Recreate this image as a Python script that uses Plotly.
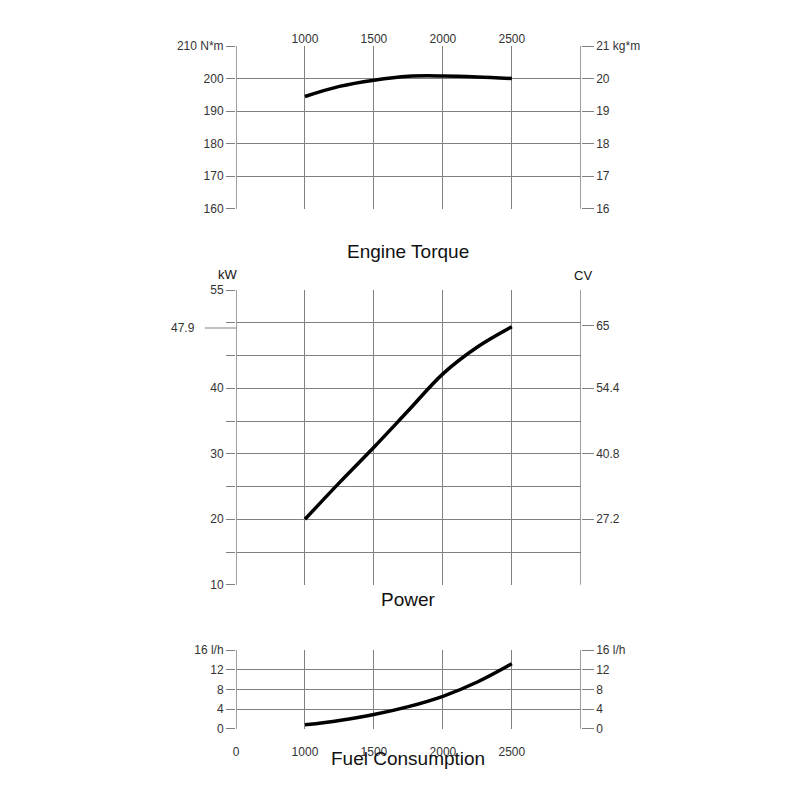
import plotly.graph_objects as go

# engine speed (rpm)
rpm = [1000, 1250, 1500, 1750, 2000, 2250, 2500]
torque_nm = [194.5, 197.6, 199.5, 200.7, 200.8, 200.5, 200.0]
power_kw = [20.0, 25.6, 31.0, 36.6, 42.2, 46.3, 49.4]
fuel_lh = [0.8, 1.7, 2.9, 4.5, 6.6, 9.5, 13.2]

x_ticks = [1000, 1500, 2000, 2500]
torque_ticks = [160, 170, 180, 190, 200, 210]
torque_left_text = ["160", "170", "180", "190", "200", "210 N*m"]
torque_right_text = ["16", "17", "18", "19", "20", "21 kg*m"]
power_grid = [10, 15, 20, 25, 30, 35, 40, 45, 50, 55]
power_left_text = ["10", "", "20", "", "30", "", "40", "", "", "55"]
power_right_vals = [20, 30, 40, 49.6]
power_right_text = ["27.2", "40.8", "54.4", "65"]
fuel_ticks = [0, 4, 8, 12, 16]
fuel_left_text = ["0", "4", "8", "12", "16 l/h"]

FONT = "Liberation Sans"
GRID = "#808080"
TXT = "#333333"

fig = go.Figure()
fig.add_trace(go.Scatter(x=rpm, y=torque_nm, xaxis="x", yaxis="y", mode="lines",
                         line=dict(color="black", width=3.5, shape="spline")))
fig.add_trace(go.Scatter(x=rpm, y=power_kw, xaxis="x2", yaxis="y2", mode="lines",
                         line=dict(color="black", width=3.5, shape="spline")))
fig.add_trace(go.Scatter(x=rpm, y=fuel_lh, xaxis="x3", yaxis="y3", mode="lines",
                         line=dict(color="black", width=3.5, shape="spline")))
# empty traces so right-hand axes are drawn
for xa, ya in [("x", "y4"), ("x2", "y5"), ("x3", "y6")]:
    fig.add_trace(go.Scatter(x=[None], y=[None], xaxis=xa, yaxis=ya, hoverinfo="skip"))

xdom = [0.285, 0.716]
doms = {1: [0.749, 0.9525], 2: [0.279, 0.6475], 3: [0.099, 0.1975]}

def xax(i, **kw):
    d = dict(domain=xdom, range=[500, 3000], tickvals=x_ticks, showgrid=True,
             gridcolor=GRID, gridwidth=1, zeroline=False, showline=False,
             ticks="", tickfont=dict(family=FONT, size=12, color=TXT),
             anchor="y" if i == 1 else "y%d" % i, fixedrange=True,
             automargin=False)
    d.update(kw)
    return d

def yax(i, rng, vals, text, side="left", grid=True, **kw):
    d = dict(domain=doms[i], range=rng, tickvals=vals, ticktext=text,
             showgrid=grid, gridcolor=GRID, gridwidth=1, zeroline=False,
             showline=False, ticks="outside", ticklen=9, tickcolor=GRID,
             tickfont=dict(family=FONT, size=12, color=TXT), side=side,
             automargin=False)
    d.update(kw)
    return d

fig.update_layout(
    xaxis=xax(1, side="top"),
    xaxis2=xax(2, showticklabels=False),
    xaxis3=xax(3, tickvals=[500] + x_ticks, ticktext=["0"] + [str(v) for v in x_ticks],
               ticks="outside", ticklen=12, tickcolor="rgba(0,0,0,0)"),
    yaxis=yax(1, [160, 210], torque_ticks, torque_left_text, anchor="x"),
    yaxis2=yax(2, [10, 55], power_grid, power_left_text, anchor="x2"),
    yaxis3=yax(3, [0, 16], fuel_ticks, fuel_left_text, anchor="x3"),
    yaxis4=yax(1, [160, 210], torque_ticks, torque_right_text, side="right",
               grid=False, overlaying="y", anchor="x", ticklen=12),
    yaxis5=yax(2, [10, 55], power_right_vals, power_right_text, side="right",
               grid=False, overlaying="y2", anchor="x2", ticklen=12),
    yaxis6=yax(3, [0, 16], fuel_ticks, fuel_left_text, side="right",
               grid=False, overlaying="y3", anchor="x3", ticklen=12),
    width=800, height=800, margin=dict(l=0, r=0, t=0, b=0),
    plot_bgcolor="white", paper_bgcolor="white", showlegend=False,
)

# left / right frame lines extending beyond each panel
ext = {1: (160 - 50 * 14 / 163, 210 + 50 * 5 / 163, "y"),
       2: (10 - 45 * 15 / 295, 55 + 45 * 6 / 295, "y2"),
       3: (0 + 16 * -2 / 79, 16 + 16 * 22 / 79, "y3")}
for i, (lo, hi, yr) in ext.items():
    xr = "x" if i == 1 else "x%d" % i
    for xv in [500, 3000]:
        fig.add_shape(type="line", xref=xr, yref=yr, x0=xv, x1=xv, y0=lo, y1=hi,
                      line=dict(color=GRID, width=1.5))

# extra 47.9 kW marker
fig.add_shape(type="line", xref="paper", yref="y2", x0=0.246, x1=0.285,
              y0=49.2, y1=49.2, line=dict(color=GRID, width=1))
fig.add_annotation(x=0.236, y=49.2, xref="paper", yref="y2", text="47.9",
                   showarrow=False, xanchor="right",
                   font=dict(family=FONT, size=12, color=TXT))

for txt, x, y, size in [("Engine Torque", 0.5, 1 - 231 / 800, 19),
                        ("Power", 0.5, 1 - 604 / 800, 19),
                        ("Fuel Consumption", 0.5, 1 - 763 / 800, 19),
                        ("kW", 208 / 800, 1 - 257 / 800, 13),
                        ("CV", 586 / 800, 1 - 258 / 800, 13)]:
    fig.add_annotation(x=x, y=y, xref="paper", yref="paper", text=txt,
                       showarrow=False, font=dict(family=FONT, size=size, color="#111"))

fig.write_html("out.html")
